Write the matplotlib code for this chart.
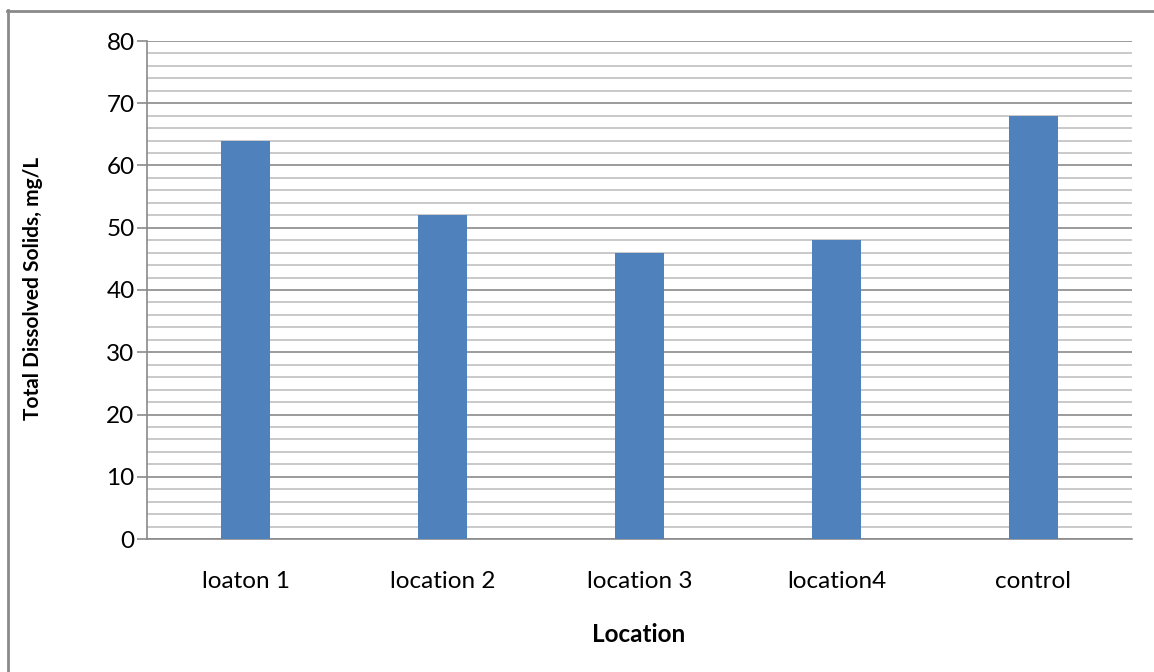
import matplotlib.pyplot as plt
from matplotlib.lines import Line2D
import numpy as np

categories = ["loaton 1", "location 2", "location 3", "location4", "control"]
tds_values = [64, 52, 46, 48, 68]
y_major = [0, 10, 20, 30, 40, 50, 60, 70, 80]

plt.rcParams['font.family'] = ['Lato', 'DejaVu Sans']

W, H = 1154, 672
fig = plt.figure(figsize=(W / 100, H / 100), dpi=100)
fig.patch.set_facecolor('white')

# outer frame (left and top edges visible)
fig.add_artist(Line2D([7.5 / W, 7.5 / W], [0, 1 - 10 / H], transform=fig.transFigure,
                      color='#8a8a8a', lw=2))
fig.add_artist(Line2D([7 / W, 1], [1 - 10.5 / H, 1 - 10.5 / H], transform=fig.transFigure,
                      color='#8a8a8a', lw=2))

left, right, top, bottom = 147, 1132, 41, 539
ax = fig.add_axes([left / W, 1 - bottom / H, (right - left) / W, (bottom - top) / H])

x = np.arange(len(categories))
ax.bar(x, tds_values, width=0.25, color='#4f81bd', zorder=3)

ax.set_xlim(-0.5, len(categories) - 0.5)
ax.set_ylim(0, 80)
ax.set_yticks(y_major)
ax.set_yticks(np.arange(0, 81, 2), minor=True)
ax.yaxis.grid(True, which='major', color='#8a8a8a', lw=1.2, zorder=0)
ax.yaxis.grid(True, which='minor', color='#c0c0c0', lw=1.2, zorder=0)
ax.set_axisbelow(True)

for s in ['top', 'right']:
    ax.spines[s].set_visible(False)
ax.spines['left'].set_color('#8a8a8a')
ax.spines['bottom'].set_color('#8a8a8a')
ax.spines['left'].set_linewidth(1.2)
ax.spines['bottom'].set_linewidth(1.2)

ax.tick_params(axis='y', which='major', length=7, color='#8a8a8a', width=1.2,
               labelsize=17.5, pad=2)
ax.tick_params(axis='y', which='minor', length=0)
ax.set_xticks(x)
ax.set_xticklabels(categories)
ax.tick_params(axis='x', length=0, labelsize=17.5, pad=23)

fig.text(33 / W, 1 - 288 / H, 'Total Dissolved Solids, mg/L', rotation=90,
         ha='center', va='center', fontsize=15, fontweight='bold')
fig.text(639 / W, 1 - 634 / H, 'Location', ha='center', va='center',
         fontsize=17.5, fontweight='bold')

fig.savefig('out.png', dpi=100, facecolor='white')
